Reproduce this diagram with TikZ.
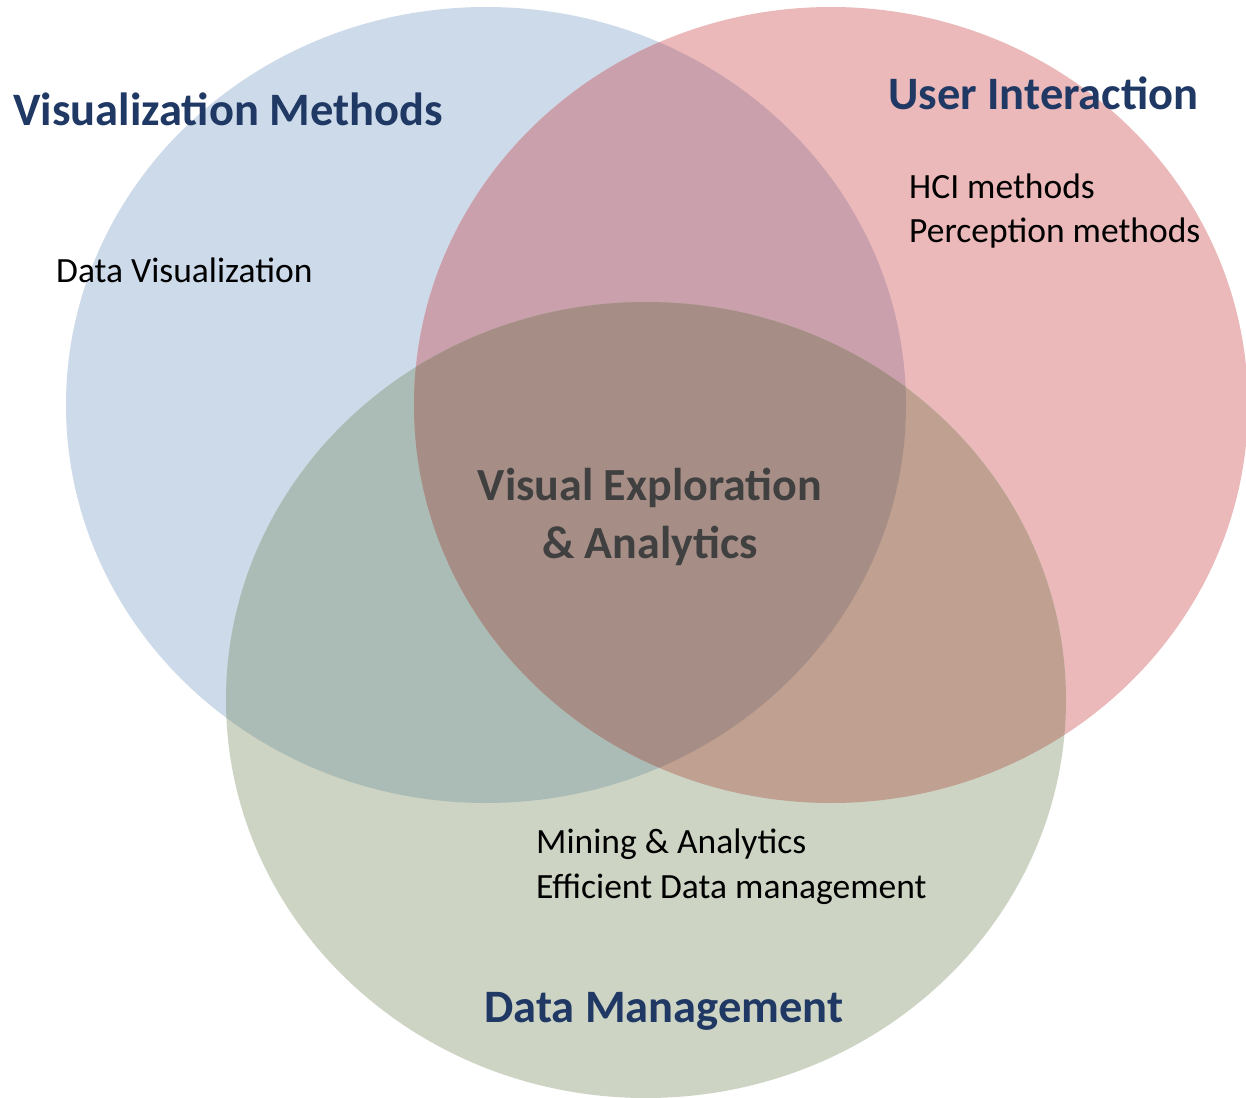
\documentclass[tikz,border=0pt]{standalone}
\usepackage{fontspec}
\setmainfont{Carlito}
\definecolor{cB}{RGB}{205,218,234}
\definecolor{cR}{RGB}{235,185,186}
\definecolor{cG}{RGB}{205,212,196}
\definecolor{cBR}{RGB}{201,160,172}
\definecolor{cBG}{RGB}{171,188,183}
\definecolor{cRG}{RGB}{191,160,145}
\definecolor{cC}{RGB}{166,142,134}
\definecolor{navy}{RGB}{31,56,100}
\definecolor{dgray}{RGB}{64,64,64}
\tikzset{
  lbl/.style={inner sep=0pt, anchor=base west, font=\fontsize{35.5}{42}\selectfont, text=black},
  ttl/.style={inner sep=0pt, anchor=base west, font=\bfseries\fontsize{46.5}{56}\selectfont, text=navy},
  ctr/.style={inner sep=0pt, anchor=base, font=\bfseries\fontsize{46}{56}\selectfont, text=dgray},
}
\newcommand{\circB}{(486,405) ellipse [x radius=420pt, y radius=398pt]}
\newcommand{\circR}{(831,405) ellipse [x radius=417pt, y radius=398pt]}
\newcommand{\circG}{(646,700) ellipse [x radius=420pt, y radius=398pt]}
\begin{document}
\begin{tikzpicture}[x=1pt,y=-1pt]
\useasboundingbox (0,0) rectangle (1246,1097);
\fill[white] (0,0) rectangle (1246,1097);
% single regions
\fill[cB] \circB;
\fill[cR] \circR;
\fill[cG] \circG;
% pairwise overlaps
\begin{scope}\clip \circB; \fill[cBR] \circR; \end{scope}
\begin{scope}\clip \circB; \fill[cBG] \circG; \end{scope}
\begin{scope}\clip \circR; \fill[cRG] \circG; \end{scope}
\begin{scope}\clip \circB; \clip \circR; \fill[cC] \circG; \end{scope}
% titles
\node[ttl] (vm) at (13,125) {Visualization Methods};
\node[ttl] (ui) at (888,110) {User Interaction};
\node[ttl] (dm) at (484,1022) {Data Management};
\node[ctr] (ve1) at (650,500) {Visual Exploration};
\node[ctr] (ve2) at (650,558) {\& Analytics};
% labels
\node[lbl] (dv) at (56,282) {Data Visualization};
\node[lbl] (hci) at (909,198) {HCI methods};
\node[lbl] (pm) at (909,242) {Perception methods};
\node[lbl] (ma) at (536,853) {Mining \& Analytics};
\node[lbl] (ed) at (536,898) {Efficient Data management};
\end{tikzpicture}
\end{document}
